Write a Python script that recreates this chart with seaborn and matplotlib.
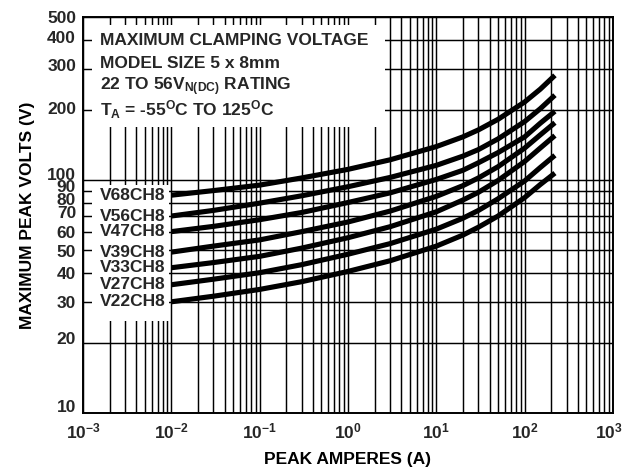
import numpy as np
import pandas as pd
import seaborn as sns
import matplotlib.pyplot as plt
from matplotlib.patches import Rectangle
from matplotlib.ticker import FixedLocator, NullFormatter

# ---- data ----
amps = [0.01, 0.03, 0.1, 0.3, 1, 3, 10, 20, 30, 50, 100, 150, 220]

v68ch8 = [86, 90, 95, 102, 111, 122, 139, 153, 164, 182, 216, 245, 281]
v56ch8 = [70, 74, 79.5, 85.5, 93.5, 102.5, 115.5, 126.5, 135, 150, 178, 202, 231]
v47ch8 = [60, 63.2, 67.5, 72.5, 80, 88, 100.5, 110, 118.5, 131, 153, 175, 197]
v39ch8 = [49, 52, 55.3, 60, 66, 73.5, 85, 94.5, 102, 114, 137, 156, 176]
v33ch8 = [42, 44.2, 47, 51, 56.5, 63, 73, 82, 88.5, 99.5, 120, 137, 155]
v27ch8 = [35.5, 37.5, 40, 43.3, 48, 53.3, 61.5, 68.5, 74, 83, 99, 113, 127.5]
v22ch8 = [30, 31.7, 33.9, 36.6, 40.5, 45, 52, 58, 62.7, 70, 84, 95.5, 107]

models = ["V68CH8", "V56CH8", "V47CH8", "V39CH8", "V33CH8", "V27CH8", "V22CH8"]
series = [v68ch8, v56ch8, v47ch8, v39ch8, v33ch8, v27ch8, v22ch8]

x_ticks = [1e-3, 1e-2, 1e-1, 1e0, 1e1, 1e2, 1e3]
x_labels = [r"$10^{-3}$", r"$10^{-2}$", r"$10^{-1}$", r"$10^{0}$",
            r"$10^{1}$", r"$10^{2}$", r"$10^{3}$"]
y_ticks = [10, 20, 30, 40, 50, 60, 70, 80, 90, 100, 200, 300, 400, 500]
y_labels = [str(v) for v in y_ticks]

title_lines = [
    "MAXIMUM CLAMPING VOLTAGE",
    "MODEL SIZE 5 x 8mm",
    r"22 TO 56V$_{N(DC)}$ RATING",
    r"T$_{A}$ = -55$^{O}$C TO 125$^{O}$C",
]

# ---- long form table for seaborn ----
df = pd.concat(
    [pd.DataFrame({"amps": amps, "volts": vals, "model": name})
     for name, vals in zip(models, series)],
    ignore_index=True,
)

# ---- style ----
sns.set_theme(style="white")
plt.rcParams["font.family"] = ["Liberation Sans", "DejaVu Sans"]
plt.rcParams["font.weight"] = "bold"
plt.rcParams["mathtext.fontset"] = "custom"
plt.rcParams["mathtext.rm"] = "Liberation Sans:bold"
plt.rcParams["mathtext.bf"] = "Liberation Sans:bold"
plt.rcParams["mathtext.it"] = "Liberation Sans:bold"
plt.rcParams["mathtext.default"] = "rm"

FS = 12.5

fig = plt.figure(figsize=(6.23, 4.70), dpi=100)
ax = fig.add_axes([83 / 623, 57 / 470, 530 / 623, 396 / 470])
ax.set_xscale("log")
ax.set_yscale("log")

sns.lineplot(data=df, x="amps", y="volts", hue="model", hue_order=models,
             palette=["black"] * len(models), linewidth=3.7, legend=False,
             ax=ax, zorder=3, solid_capstyle="butt")

ax.set_xlim(1e-3, 1e3)
ax.set_ylim(10, 500)

# grid: every decade and every 2..9 in between on x, listed values on y
x_grid = [m * 10.0 ** e for e in range(-3, 3) for m in range(1, 10)] + [1e3]
ax.xaxis.set_major_locator(FixedLocator(x_ticks))
ax.xaxis.set_minor_locator(FixedLocator(x_grid))
ax.yaxis.set_major_locator(FixedLocator(y_ticks))
ax.yaxis.set_minor_locator(FixedLocator([]))
for axis in (ax.xaxis, ax.yaxis):
    axis.set_major_formatter(NullFormatter())
    axis.set_minor_formatter(NullFormatter())
ax.grid(True, which="both", color="black", linewidth=1.05)
ax.set_axisbelow(True)
ax.tick_params(axis="both", which="both", length=0)

for sp in ax.spines.values():
    sp.set_color("black")
    sp.set_linewidth(1.4)

# tick labels drawn by hand so the crowded ones can be nudged like the original
y_nudge = {10: 4, 20: 2.5, 30: -1, 40: -1.5, 50: -2, 60: -1, 70: 1.5,
           80: 1.5, 90: 2, 100: 3.5, 300: 1.5, 400: 1, 500: -1}
for v, lab in zip(y_ticks, y_labels):
    ax.annotate(lab, xy=(0, v), xycoords=("axes fraction", "data"),
                xytext=(-5, y_nudge.get(v, 0)), textcoords="offset points",
                ha="right", va="center", fontsize=FS, fontweight="bold",
                annotation_clip=False)
for i, (v, lab) in enumerate(zip(x_ticks, x_labels)):
    dx = -3 if i == len(x_ticks) - 1 else 0
    ax.annotate(lab, xy=(v, 0), xycoords=("data", "axes fraction"),
                xytext=(dx, -6), textcoords="offset points",
                ha="center", va="top", fontsize=FS, fontweight="bold",
                annotation_clip=False)

ax.set_xlabel("PEAK AMPERES (A)", fontsize=FS, fontweight="bold",
              color="black", va="center")
ax.xaxis.set_label_coords(0.5, -0.118)
ax.set_ylabel("MAXIMUM PEAK VOLTS (V)", fontsize=FS, fontweight="bold",
              color="black", va="center")
ax.yaxis.set_label_coords(-0.104, 0.5)

# white areas behind the title block and the model labels
ax.add_patch(Rectangle((0.017, 0.722), 0.553, 0.258, transform=ax.transAxes,
                       facecolor="white", edgecolor="none", zorder=1))
ax.add_patch(Rectangle((0.017, 0.233), 0.146, 0.344, transform=ax.transAxes,
                       facecolor="white", edgecolor="none", zorder=1))

# title block
for i, line in enumerate(title_lines):
    ax.text(0.032, 0.94 - i * 0.058, line, transform=ax.transAxes,
            fontsize=FS, fontweight="bold", ha="left", va="center",
            zorder=4)

# model labels at the start of each curve
for name, vals in zip(models, series):
    ax.annotate(name, xy=(amps[0], vals[0]), xytext=(-4, 0),
                textcoords="offset points", ha="right", va="center",
                fontsize=FS, fontweight="bold", zorder=4)

fig.savefig("out.png", dpi=100)
